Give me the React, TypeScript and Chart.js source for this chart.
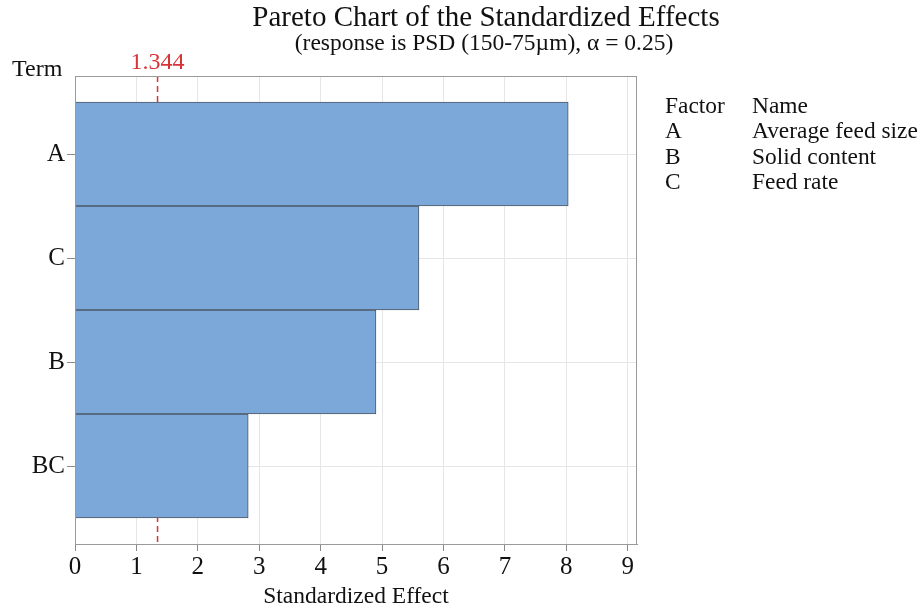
import React, { useEffect, useRef } from "react";
import { Chart, registerables } from "chart.js";

Chart.register(...registerables);

const terms = ["A", "C", "B", "BC"];
const effects = [8.03, 5.6, 4.9, 2.82];
const xTicks = [0, 1, 2, 3, 4, 5, 6, 7, 8, 9];
const refValue = 1.344;
const factorCodes = ["A", "B", "C"];
const factorNames = ["Average feed size", "Solid content", "Feed rate"];
const titleText = "Pareto Chart of the Standardized Effects";
const subtitleText = "(response is PSD (150-75\u00b5m), \u03b1 = 0.25)";

const FONT = '"Liberation Serif", "Times New Roman", serif';

export default function App() {
  const ref = useRef<HTMLCanvasElement | null>(null);
  useEffect(() => {
    const canvas = ref.current!;
    const overlay = {
      id: "overlay",
      beforeDatasetsDraw(chart: any) {
        const { ctx, chartArea } = chart;
        const xs = chart.scales.x;
        const px = xs.getPixelForValue(refValue);
        ctx.save();
        ctx.strokeStyle = "#d9333a";
        ctx.lineWidth = 1.5;
        ctx.setLineDash([6, 4]);
        ctx.beginPath();
        ctx.moveTo(px, chartArea.top);
        ctx.lineTo(px, chartArea.bottom);
        ctx.stroke();
        ctx.restore();
      },
      afterDraw(chart: any) {
        const { ctx, chartArea } = chart;
        const xs = chart.scales.x;
        ctx.save();
        ctx.strokeStyle = "#9a9a9a";
        ctx.lineWidth = 1;
        ctx.strokeRect(chartArea.left + 0.5, chartArea.top + 0.5, chartArea.right - chartArea.left - 1, chartArea.bottom - chartArea.top);
        ctx.fillStyle = "#111";
        ctx.textBaseline = "middle";
        ctx.textAlign = "center";
        ctx.font = `29px ${FONT}`;
        ctx.fillText(titleText, 486, 18);
        ctx.font = `23.5px ${FONT}`;
        ctx.fillText(subtitleText, 484, 44);
        ctx.textAlign = "left";
        ctx.font = `24px ${FONT}`;
        ctx.fillText("Term", 12, 70);
        ctx.fillStyle = "#d9333a";
        ctx.textAlign = "center";
        ctx.font = `24px ${FONT}`;
        ctx.fillText(String(refValue), xs.getPixelForValue(refValue), 63);
        ctx.fillStyle = "#111";
        ctx.textAlign = "left";
        ctx.font = `23.4px ${FONT}`;
        ctx.fillText("Factor", 665, 107);
        ctx.fillText("Name", 752, 107);
        factorCodes.forEach((c, i) => {
          ctx.fillText(c, 665, 132 + i * 25.5);
          ctx.fillText(factorNames[i], 752, 132 + i * 25.5);
        });
        ctx.restore();
      },
    };
    const chart = new Chart(canvas, {
      type: "bar",
      data: {
        datasets: [
          {
            data: effects.map((v, i) => ({ x: v, y: i })),
            backgroundColor: "#7ba7d9",
            borderColor: "#4e5866",
            borderWidth: 1,
            barPercentage: 1,
            categoryPercentage: 1,
          },
        ],
      },
      options: {
        indexAxis: "y",
        animation: false,
        responsive: false,
        maintainAspectRatio: false,
        layout: { padding: { top: 76, right: 285, left: 0, bottom: 0 } },
        plugins: { legend: { display: false }, tooltip: { enabled: false }, title: { display: false } },
        scales: {
          x: {
            type: "linear",
            min: 0,
            max: 9.15,
            afterBuildTicks: (s: any) => {
              s.ticks = xTicks.map((v) => ({ value: v }));
            },
            afterFit: (s: any) => {
              s.height = 62;
            },
            grid: { color: "#e6e6e6", tickColor: "#8a8a8a", tickLength: 7, drawTicks: true },
            border: { color: "#9a9a9a" },
            ticks: { color: "#111", font: { family: FONT, size: 25 }, padding: 1, maxRotation: 0 },
            title: {
              display: true,
              text: "Standardized Effect",
              color: "#111",
              font: { family: FONT, size: 23.5 },
              padding: { top: 0, bottom: -5 },
            },
          },
          y: {
            type: "linear",
            reverse: true,
            offset: false,
            min: -0.75,
            max: 3.75,
            afterBuildTicks: (s: any) => {
              s.ticks = terms.map((_, i) => ({ value: i }));
            },
            afterFit: (s: any) => {
              s.width = 75;
            },
            grid: { color: "#e6e6e6", tickColor: "#8a8a8a", tickLength: 8, drawTicks: true, offset: false },
            border: { color: "#9a9a9a" },
            ticks: {
              color: "#111",
              font: { family: FONT, size: 25 },
              padding: 2,
              callback: (v: any) => terms[v] ?? "",
            },
          },
        },
      },
      plugins: [overlay],
    } as any);
    return () => chart.destroy();
  }, []);
  return (
    <div style={{ position: "fixed", left: 0, top: 0, width: 922, height: 606, background: "#fff" }}>
      <canvas ref={ref} width={922} height={606} style={{ width: 922, height: 606 }} />
    </div>
  );
}
